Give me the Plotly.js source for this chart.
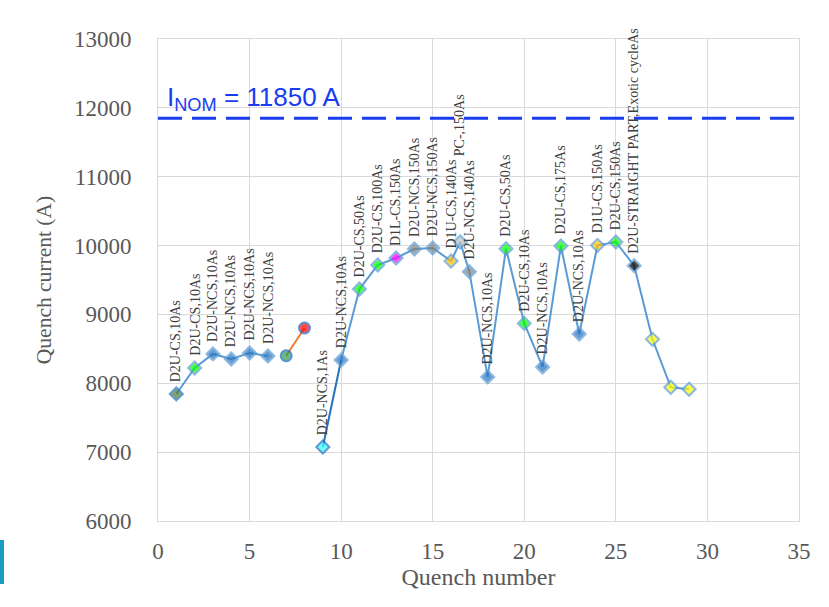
<!DOCTYPE html>
<html>
<head>
<meta charset="utf-8">
<script src="https://cdn.plot.ly/plotly-3.0.1.min.js"></script>
<style>
  html, body { margin: 0; padding: 0; background: #fff; }
  #chart { width: 829px; height: 607px; }
  #tab { position: absolute; left: 0; top: 540px; width: 4px; height: 44px; background: #1a9bbf; }
</style>
</head>
<body>
<div id="chart"></div>
<div id="tab"></div>
<script>
// ---- data ----
const quenchNo = [1, 2, 3, 4, 5, 6, 7, 8, 9, 10, 11, 12, 13, 14, 15, 16, 16.5, 17, 18, 19, 20, 21, 22, 23, 24, 25, 26, 27, 28, 29];
const current  = [7845, 8222, 8426, 8353, 8440, 8396, 8400, 8803, 7075, 8338, 9369, 9718, 9820, 9950, 9965, 9776, 10052, 9621, 8092, 9955, 8870, 8237, 9994, 8716, 10004, 10052, 9708, 8639, 7942, 7913];
const labels = [
  "D2U-CS,10As", "D2U-CS,10As", "D2U-NCS,10As", "D2U-NCS,10As", "D2U-NCS,10As", "D2U-NCS,10As",
  "", "",
  "D2U-NCS,1As", "D2U-NCS,10As", "D2U-CS,50As", "D2U-CS,100As", "D1L-CS,150As", "D2U-NCS,150As",
  "D2U-NCS,150As", "D1U-CS,140As", "PC-,150As", "D2U-NCS,140As", "D2U-NCS,10As", "D2U-CS,50As",
  "D2U-CS,10As", "D2U-NCS,10As", "D2U-CS,175As", "D2U-NCS,10As", "D1U-CS,150As", "D2U-CS,150As",
  "D2U-STRAIGHT PART,Exotic cycleAs", "", "", ""
];
const nominalCurrent = 11850;
const nominalLabel = "I<sub>NOM</sub> = 11850 A";

// ---- styles ----
const markerFill = [
  "#4f7a32", "#00ff00", "#2473c0", "#2473c0", "#2473c0", "#2473c0",
  "#2e9a4e", "#ff0000",
  "#33ffff", "#2473c0", "#00ff00", "#00ff00", "#ff00ff", "#808080", "#808080", "#ffc000",
  "#c0c0c0", "#808080", "#2473c0", "#00ff00", "#00ff00", "#2473c0", "#00ff00", "#2473c0",
  "#ffc000", "#00ff00", "#000000", "#ffff00", "#ffff00", "#ffff00"
];
const markerLine = quenchNo.map((_, i) => (i === 0 || i === 8) ? "#1f6fc0" : (i === 6 || i === 7) ? "#1565c8" : "#5b9bd5");
const markerSym = quenchNo.map((_, i) => (i === 6 || i === 7) ? "circle" : "diamond");
const markerSize = quenchNo.map((_, i) => (i === 6 || i === 7) ? 11 : 10);
const labelShift = quenchNo.map((_, i) => i === 16 ? 84 : 10);

const serif = "Liberation Serif, Times New Roman, serif";

function seg(a, b) { return { x: quenchNo.slice(a, b), y: current.slice(a, b) }; }

const traces = [
  Object.assign(seg(0, 6), { mode: "lines", line: { color: "#5b9bd5", width: 2 }, hoverinfo: "skip" }),
  Object.assign(seg(6, 8), { mode: "lines", line: { color: "#ed7d31", width: 2 }, hoverinfo: "skip" }),
  Object.assign(seg(8, 10), { mode: "lines", line: { color: "#2473c0", width: 2 }, hoverinfo: "skip" }),
  Object.assign(seg(9, 30), { mode: "lines", line: { color: "#5b9bd5", width: 2 }, hoverinfo: "skip" }),
  {
    x: quenchNo, y: current, mode: "markers",
    marker: { symbol: markerSym, size: markerSize, color: markerFill, line: { color: markerLine, width: 2 } }
  }
];

const annotations = [];
quenchNo.forEach((q, i) => {
  if (!labels[i]) return;
  annotations.push({
    x: q, y: current[i], xref: "x", yref: "y", text: labels[i], showarrow: false,
    textangle: -90, xanchor: "center", yanchor: "bottom", yshift: labelShift[i],
    font: { family: serif, size: 14, color: "#404040" }
  });
});
annotations.push({
  x: 0.011, y: nominalCurrent, xref: "paper", yref: "y", xanchor: "left", yanchor: "bottom", yshift: 1,
  text: nominalLabel, showarrow: false,
  font: { family: "Liberation Sans, Arial, sans-serif", size: 26, color: "#1a3cf0" }
});

const layout = {
  width: 829, height: 607,
  margin: { l: 158, r: 30, t: 39, b: 86 },
  paper_bgcolor: "#fff", plot_bgcolor: "#fff",
  showlegend: false,
  xaxis: {
    range: [0, 35], dtick: 5, tick0: 0,
    showgrid: true, gridcolor: "#d9d9d9", gridwidth: 1, zeroline: false,
    showline: true, linecolor: "#d9d9d9", mirror: true,
    ticks: "outside", ticklen: 9, tickcolor: "rgba(0,0,0,0)",
    tickfont: { family: serif, size: 23, color: "#595959" },
    title: { text: "Quench number", font: { family: serif, size: 24, color: "#595959" }, standoff: 4 }
  },
  yaxis: {
    range: [6000, 13000], dtick: 1000, tickformat: "d",
    showgrid: true, gridcolor: "#d9d9d9", gridwidth: 1, zeroline: false,
    showline: true, linecolor: "#d9d9d9", mirror: true,
    ticks: "outside", ticklen: 21, tickcolor: "rgba(0,0,0,0)",
    tickfont: { family: serif, size: 23, color: "#595959" },
    title: { text: "Quench current (A)", font: { family: serif, size: 21.5, color: "#595959" }, standoff: 16 }
  },
  shapes: [{
    type: "line", xref: "paper", yref: "y", x0: 0, x1: 1, y0: nominalCurrent, y1: nominalCurrent,
    line: { color: "#1a3cf0", width: 3, dash: "24px,10px" }
  }],
  annotations: annotations
};

Plotly.newPlot("chart", traces, layout, { displayModeBar: false, staticPlot: true });
</script>
</body>
</html>
